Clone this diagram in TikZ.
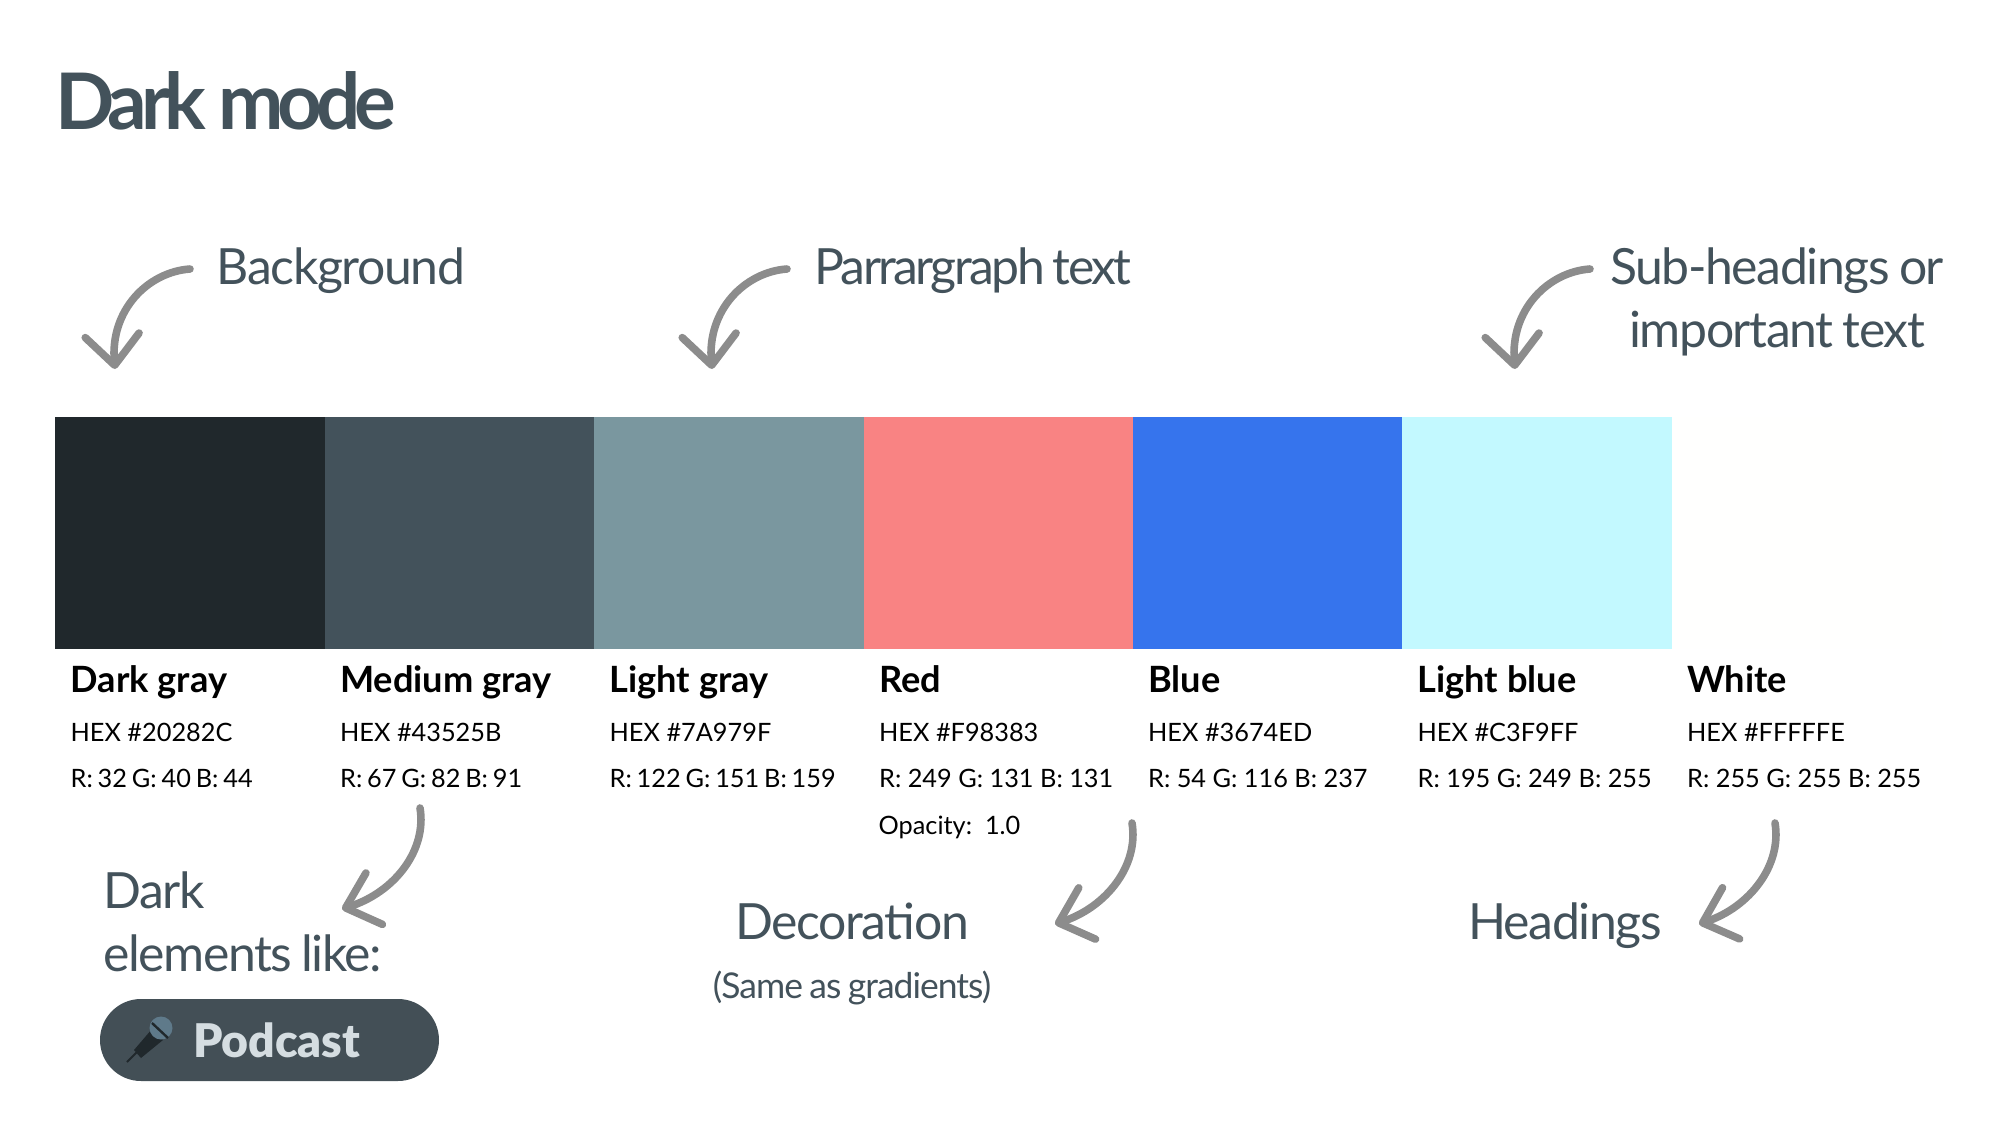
\documentclass[tikz,border=0pt]{standalone}
\usepackage{fontspec}
\setmainfont{Lato}
\newfontfamily\lightfont[LetterSpace=-2.8,WordSpace=.8]{Lato}
\newfontfamily\tightfont[LetterSpace=-5.2,WordSpace=.8]{Lato}
\newfontfamily\titlefont[LetterSpace=-7.8]{Lato}
\newfontfamily\heavyfont[LetterSpace=0]{Lato Black}
\usetikzlibrary{arrows.meta,positioning,calc}
\definecolor{DMDark}{HTML}{20282C}
\definecolor{DMMedium}{HTML}{43525B}
\definecolor{DMLight}{HTML}{7A979F}
\definecolor{DMRed}{HTML}{F98383}
\definecolor{DMBlue}{HTML}{3674ED}
\definecolor{DMSky}{HTML}{C3F9FF}
\definecolor{DMWhite}{HTML}{FFFFFE}
\definecolor{DMArrow}{HTML}{8C8C8C}
\definecolor{DMPill}{HTML}{434F56}
\definecolor{DMPillText}{HTML}{D5DDE1}
\definecolor{DMMic}{HTML}{5F7A8A}
\tikzset{
  swatch/.style={minimum width=13.5cm,minimum height=11.6cm,inner sep=0pt,anchor=north west},
  pointer/.style={-{Straight Barb[length=15mm,width=27mm,round]},DMArrow,line width=3.8mm,line cap=round},
  heading/.style={text=DMMedium,font=\fontsize{71}{90}\selectfont\lightfont,inner sep=0pt,anchor=base west},
  headingmid/.style={heading,anchor=base,align=center},
  colname/.style={text=black,font=\fontsize{51.5}{60}\selectfont\bfseries,inner sep=0pt,anchor=base west},
  colvalue/.style={text=black,font=\fontsize{36}{42}\selectfont,inner sep=0pt,anchor=base west},
}
\begin{document}
\begin{tikzpicture}[x=.05cm,y=-.05cm]
    \useasboundingbox (0,0) rectangle (2000,1137);
    \node[text=DMMedium,font=\fontsize{111}{130}\selectfont\bfseries\titlefont,inner sep=0pt,anchor=base west] (title) at (55,130) {Dark mode};

    % Seven swatches side by side, with their names and values below.
    \node[swatch,fill=DMDark]   (darkgray)   at (55,417)     {};
    \node[swatch,fill=DMMedium] (mediumgray) at (324.5,417)  {};
    \node[swatch,fill=DMLight]  (lightgray)  at (594,417)    {};
    \node[swatch,fill=DMRed]    (red)        at (863.5,417)  {};
    \node[swatch,fill=DMBlue]   (blue)       at (1132.5,417) {};
    \node[swatch,fill=DMSky]    (lightblue)  at (1402,417)   {};
    \node[swatch,fill=DMWhite]  (white)      at (1671.5,417) {};

    \foreach \n/\x/\name/\hex/\rgb/\ws in {
      darkgray/70.5/Dark gray/20282C/R: 32 G: 40 B: 44/.75,
      mediumgray/340/Medium gray/43525B/R: 67 G: 82 B: 91/.75,
      lightgray/609.5/Light gray/7A979F/R: 122 G: 151 B: 159/.75,
      red/879/Red/F98383/R: 249 G: 131 B: 131/1,
      blue/1148/Blue/3674ED/R: 54 G: 116 B: 237/1,
      lightblue/1417.5/Light blue/C3F9FF/R: 195 G: 249 B: 255/1,
      white/1687/White/FFFFFE/R: 255 G: 255 B: 255/1}{
      \node[colname]  (\n name) at (\x,692) {\name};
      \node[colvalue] (\n hex)  at (\x,741) {HEX \#\hex};
      \node[colvalue] (\n rgb)  at (\x,787) {\spaceskip=\ws\fontdimen2\font\rgb};
    }
    \node[colvalue] (opacity) at (878.5,834) {Opacity:\ \ 1.0};

    \node[heading] (background) at (216.5,284) {Background};
    \node[heading,font=\fontsize{71}{90}\selectfont\tightfont] (parrargraph) at (814,284) {Parrargraph text};
    \node[headingmid] (subheadings) at (1777,284) {Sub-headings or};
    \node[headingmid] (important) at (1777,347) {important text};
    \node[heading] (dark) at (103,908) {Dark};
    \node[heading] (elements) at (103,971) {elements like:};
    \node[headingmid] (decoration) at (852,939.5) {Decoration};
    \node[headingmid,font=\fontsize{50.5}{60}\selectfont\lightfont] (same) at (852,998) {(Same as gradients)};
    \node[headingmid] (headings) at (1565,939.5) {Headings};

    % Pill with microphone.
    \node[fill=DMPill,rounded corners=41*.05cm,minimum width=339*.05cm,minimum height=82*.05cm,inner sep=0pt] (pill) at (269.5,1040) {};
    \node[text=DMPillText,font=\fontsize{66}{80}\selectfont\heavyfont,inner sep=0pt,anchor=base west] (podcast) at (193,1057) {Podcast};
    \draw[DMDark,line width=1mm] (127,1062)--(137,1052);
    \fill[DMDark] (134,1050)--(152,1029)--(163,1040)--(141,1058)--cycle;
    \fill[DMMic] (161,1028) circle (11.5);
    \draw[DMDark,line width=1.2mm] (152,1023)--(168,1038);

    % Pointers, free ends are coordinates.
    \coordinate (a1) at (190,269);  \coordinate (a1b) at (148,272);  \coordinate (a1c) at (110,310);  \coordinate (a1t) at (115,369);
    \coordinate (a2) at (787,269);  \coordinate (a2b) at (745,272);  \coordinate (a2c) at (707,310);  \coordinate (a2t) at (712,369);
    \coordinate (a3) at (1590,269); \coordinate (a3b) at (1548,272); \coordinate (a3c) at (1510,310); \coordinate (a3t) at (1515,369);
    \coordinate (a4) at (420,808);  \coordinate (a4b) at (427,850);  \coordinate (a4c) at (395,892);  \coordinate (a4t) at (342,909);
    \coordinate (a5) at (1132,823); \coordinate (a5b) at (1139,865); \coordinate (a5c) at (1107,907); \coordinate (a5t) at (1055,924);
    \coordinate (a6) at (1775,823); \coordinate (a6b) at (1782,865); \coordinate (a6c) at (1750,907); \coordinate (a6t) at (1699,924);
    \foreach \a in {a1,a2,a3,a4,a5,a6}{
      \draw[pointer] (\a) .. controls (\a b) and (\a c) .. (\a t);
    }
\end{tikzpicture}
\end{document}
